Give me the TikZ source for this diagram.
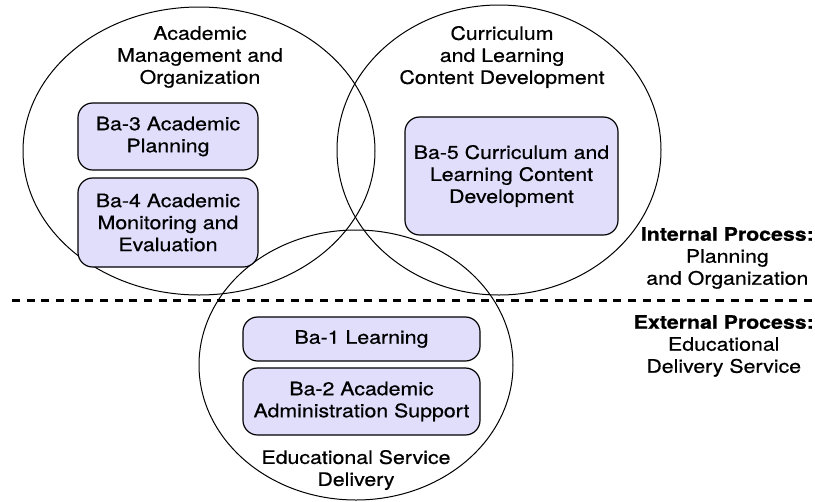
\documentclass[tikz,border=0pt]{standalone}
\usepackage{fontspec}
\setmainfont{TeX Gyre Heros}[FakeStretch=1.15,FakeBold=0.6]
\definecolor{bafill}{RGB}{225,222,252}
\begin{document}
\begin{tikzpicture}[x=0.75pt,y=-0.75pt,line cap=round,line join=round,font=\fontsize{13.9}{16.5}\selectfont,
		ba/.style={draw,line width=0.9pt,fill=bafill,rounded corners=11pt,align=center,inner sep=0pt},
		area/.style={line width=0.75pt},
		caption/.style={align=center,inner sep=0pt}]
			\useasboundingbox (0,0) rectangle (815,501);
			\draw[area] (199,151) ellipse [x radius=132pt,y radius=108pt];
			\draw[area] (499,150) ellipse [x radius=121.5pt,y radius=108.75pt];
			\draw[area] (356,365) ellipse [x radius=117.75pt,y radius=101.25pt];
			\path (12,300)coordinate(sepL) (815,300)coordinate(sepR);
			\draw[line width=2.25pt,line cap=butt,dash pattern=on 6pt off 5pt] (sepL)--(sepR);
			\node[caption] (mgmt) at (200,57) {Academic\\Management and\\Organization};
			\node[caption] (curr) at (502,57) {Curriculum\\and Learning\\Content Development};
			\node[caption] (serv) at (356,470) {Educational Service\\Delivery};
			\node[ba,minimum width=135pt,minimum height=50.25pt] (ba3) at (168,136.5) {Ba-3 Academic\\Planning};
			\node[ba,minimum width=135pt,minimum height=66.75pt] (ba4) at (168,222.5) {Ba-4 Academic\\Monitoring and\\Evaluation};
			\node[ba,minimum width=159.75pt,minimum height=88.5pt] (ba5) at (511.5,176) {Ba-5 Curriculum and\\Learning Content\\Development};
			\node[ba,minimum width=177.75pt,minimum height=33pt] (ba1) at (361.5,339) {Ba-1 Learning};
			\node[ba,minimum width=177.75pt,minimum height=50.25pt] (ba2) at (361.5,401.5) {Ba-2 Academic\\Administration Support};
			\node[caption,anchor=east] (internal) at (814,258) {\textbf{Internal Process:}\\Planning\\and Organization};
			\node[caption,anchor=east] (external) at (814,346) {\textbf{External Process:}\\Educational\\Delivery Service};
		\end{tikzpicture}
\end{document}
